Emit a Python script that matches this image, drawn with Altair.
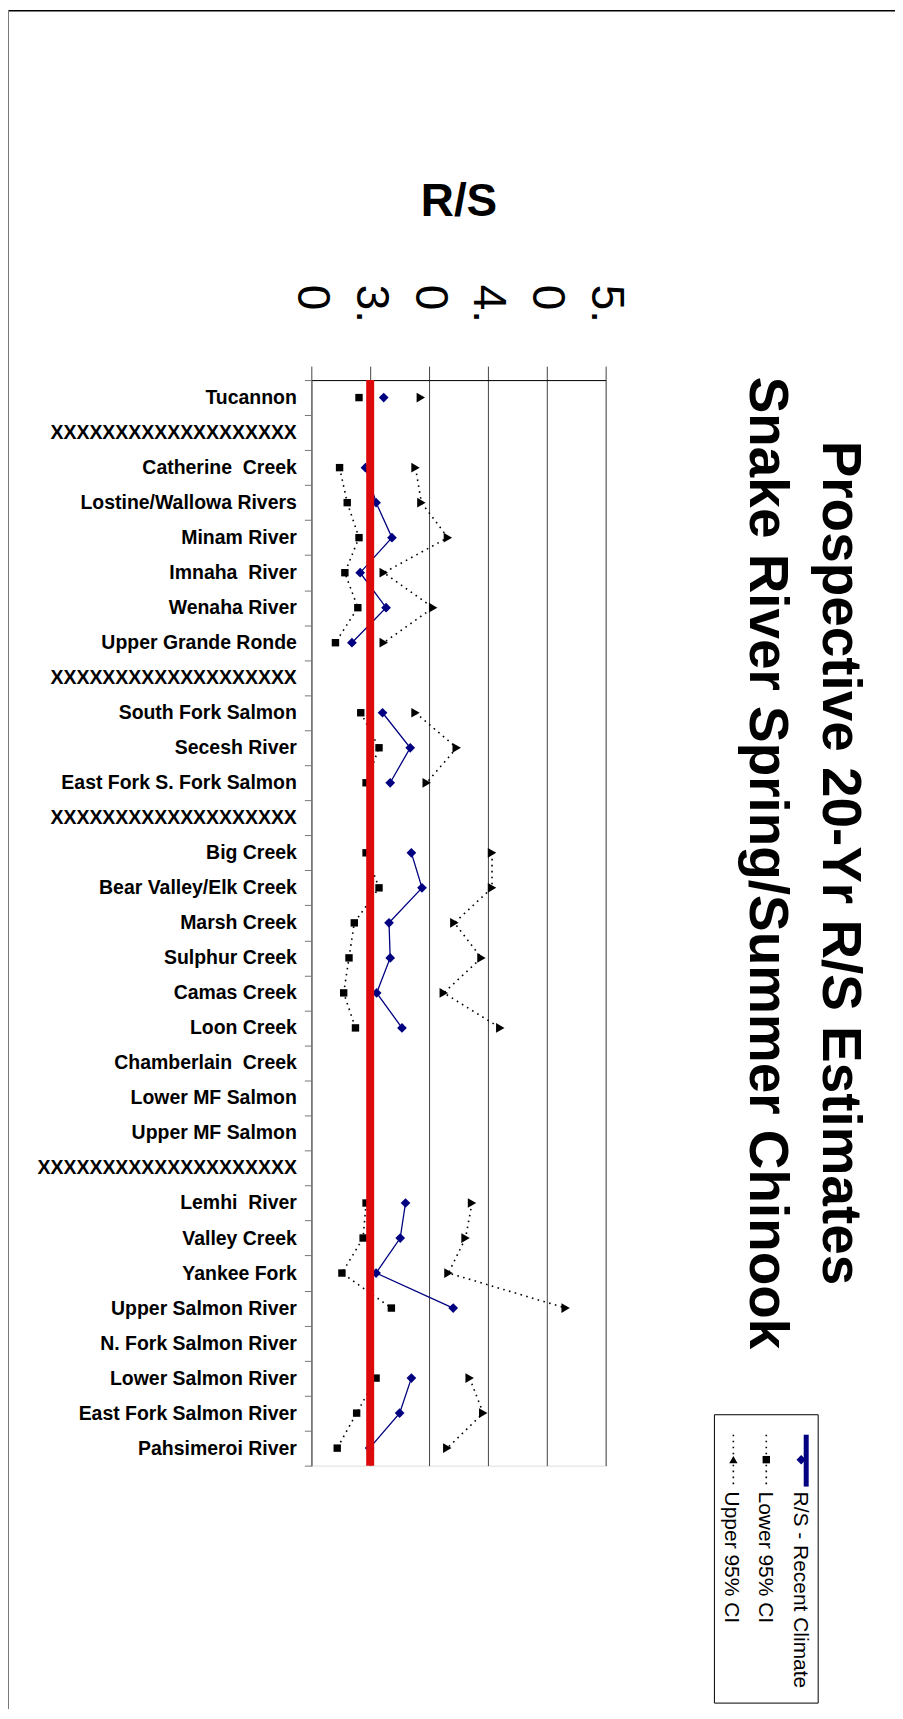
import json
import altair as alt
import pandas as pd

NB = "\u00a0"
SITES = [
    "Tucannon", "X" * 19, "Catherine" + NB * 2 + "Creek", "Lostine/Wallowa Rivers",
    "Minam River", "Imnaha" + NB * 2 + "River", "Wenaha River", "Upper Grande Ronde",
    "X" * 19, "South Fork Salmon", "Secesh River" + NB, "East Fork S. Fork Salmon",
    "X" * 19, "Big Creek", "Bear Valley/Elk Creek", "Marsh Creek", "Sulphur Creek",
    "Camas Creek", "Loon Creek", "Chamberlain" + NB * 2 + "Creek", "Lower MF Salmon",
    "Upper MF Salmon", "X" * 20, "Lemhi" + NB * 2 + "River", "Valley Creek", "Yankee Fork",
    "Upper Salmon River", "N. Fork Salmon River", "Lower Salmon River",
    "East Fork Salmon River", "Pahsimeroi River",
]
RS = [1.23, None, 0.92, 1.10, 1.37, 0.83, 1.27, 0.69, None, 1.21, 1.68, 1.34, None,
      1.70, 1.88, 1.32, 1.34, 1.11, 1.54, None, None, None, None,
      1.60, 1.51, 1.10, 2.41, None, 1.70, 1.50, 0.99]
LOWER = [0.81, None, 0.48, 0.61, 0.81, 0.57, 0.79, 0.41, None, 0.84, 1.15, 0.93, None,
         0.93, 1.15, 0.73, 0.64, 0.55, 0.75, None, None, None, None,
         0.93, 0.88, 0.52, 1.36, None, 1.10, 0.77, 0.44]
UPPER = [1.86, None, 1.77, 1.87, 2.32, 1.23, 2.07, 1.23, None, 1.77, 2.47, 1.96, None,
         3.07, 3.07, 2.43, 2.89, 2.25, 3.21, None, None, None, None,
         2.73, 2.62, 2.33, 4.32, None, 2.69, 2.92, 2.31]
SERIES = ["R/S - Recent Climate", "Lower 95% CI", "Upper 95% CI"]
X_TICKS = [0, 1, 2, 3, 4, 5]
X_TICK_LABELS = ["0", "3.", "0", "4.", "0", "5."]
TITLE = ["Prospective 20-Yr R/S Estimates", "Snake River Spring/Summer Chinook"]
AXIS_TITLE = "R/S"
REPLACEMENT = [1.0]

FONT = "Liberation Sans"
NAVY = "#000080"


def to_rows(values, name):
    rows, seg = [], 0
    for i, v in enumerate(values):
        if v is None:
            seg += 1
            continue
        rows.append({"row": i, "value": v, "series": name, "seg": seg})
    return rows


df = pd.DataFrame(to_rows(RS, SERIES[0]) + to_rows(LOWER, SERIES[1]) + to_rows(UPPER, SERIES[2]))

x_enc = alt.X(
    "value:Q",
    scale=alt.Scale(domain=[0, 5], nice=False, zero=False),
    axis=alt.Axis(
        orient="top", values=X_TICKS,
        labelExpr=json.dumps(X_TICK_LABELS) + "[datum.value]",
        labelAngle=90, labelAlign="left", labelBaseline="middle",
        labelFont=FONT, labelFontSize=46, labelColor="black",
        labelPadding=82, labelFlush=False, labelOverlap=False,
        tickSize=14, tickColor="#444", tickWidth=1,
        grid=True, gridColor="#444", gridWidth=1, gridOpacity=1,
        domainColor="black", domainWidth=1,
        title=AXIS_TITLE, titleFont=FONT, titleFontSize=46, titleFontWeight="bold",
        titleColor="black", titleBaseline="alphabetic", titleY=-165,
    ),
)
y_enc = alt.Y(
    "row:O",
    sort="ascending",
    scale=alt.Scale(type="band", domain=list(range(len(SITES))), paddingInner=0, paddingOuter=0),
    axis=alt.Axis(
        labelExpr=json.dumps(SITES) + "[datum.value]",
        tickBand="extent", tickSize=7, tickColor="#777", domainColor="#777",
        domainWidth=1.5, labelPadding=8, labelFont=FONT, labelFontSize=19.5,
        labelFontWeight="bold", labelColor="black", labelLimit=0, title=None, grid=False,
    ),
)

base = alt.Chart(df)


def series(name):
    return base.transform_filter(alt.datum.series == name)


dot = [1.6, 4.4]
lower_line = series(SERIES[1]).mark_line(color="black", strokeWidth=1.6, strokeDash=dot).encode(
    x=x_enc, y=y_enc, detail="seg:N", order="row:Q")
upper_line = series(SERIES[2]).mark_line(color="black", strokeWidth=1.6, strokeDash=dot).encode(
    x=x_enc, y=y_enc, detail="seg:N", order="row:Q")
rs_line = series(SERIES[0]).mark_line(color=NAVY, strokeWidth=1.3).encode(
    x=x_enc, y=y_enc, detail="seg:N", order="row:Q")

lower_pts = series(SERIES[1]).mark_point(shape="square", filled=True, size=55, color="black", opacity=1).encode(
    x=x_enc, y=y_enc)
upper_pts = series(SERIES[2]).mark_point(shape="triangle-right", filled=True, size=95, color="black", opacity=1).encode(
    x=x_enc, y=y_enc)
rs_pts = series(SERIES[0]).mark_point(shape="diamond", filled=True, size=95, color=NAVY, opacity=1).encode(
    x=x_enc, y=y_enc)

red = alt.Chart(pd.DataFrame({"value": REPLACEMENT})).mark_rule(color="#dc0a0a", strokeWidth=8).encode(x=x_enc)

one = pd.DataFrame({"k": [0]})

# page frame (decorative)
frame_top = alt.Chart(one).mark_rule(color="black", strokeWidth=1.5).encode(
    x=alt.value(-304), x2=alt.value(586), y=alt.value(-370.2))
frame_left = alt.Chart(one).mark_rule(color="#777", strokeWidth=1).encode(
    x=alt.value(-303.5), y=alt.value(-371), y2=alt.value(1332))

# chart title, rotated like the rest of the page
title = alt.Chart(one).mark_text(
    angle=90, align="center", baseline="bottom", font=FONT, fontSize=55,
    fontWeight="bold", lineHeight=73, color="black",
).encode(x=alt.value(501), y=alt.value(484), text=alt.value(TITLE))

# legend (rotated, drawn by hand)
legend_box = alt.Chart(one).mark_rect(fillOpacity=0, stroke="black", strokeWidth=1).encode(
    x=alt.value(404), x2=alt.value(508), y=alt.value(1037), y2=alt.value(1326))
leg_layers = [legend_box]
leg_text_x = [490, 455, 421]
leg_line_x = [496, 456, 423]
for i, name in enumerate(SERIES):
    lx = leg_line_x[i]
    if i == 0:
        leg_layers.append(alt.Chart(one).mark_point(shape="diamond", filled=True, size=90, color=NAVY, opacity=1).encode(
            x=alt.value(lx - 5), y=alt.value(1082)))
        leg_layers.append(alt.Chart(one).mark_rule(color=NAVY, strokeWidth=5).encode(
            x=alt.value(lx), y=alt.value(1057), y2=alt.value(1109)))
    else:
        leg_layers.append(alt.Chart(one).mark_rule(color="black", strokeWidth=1.6, strokeDash=dot).encode(
            x=alt.value(lx), y=alt.value(1057), y2=alt.value(1109)))
        shape = "square" if i == 1 else "triangle-up"
        leg_layers.append(alt.Chart(one).mark_point(shape=shape, filled=True, size=55 if i == 1 else 70,
                                                    color="black", opacity=1).encode(
            x=alt.value(lx), y=alt.value(1082)))
    leg_layers.append(alt.Chart(one).mark_text(angle=90, align="left", baseline="middle", font=FONT,
                                               fontSize=21, color="black").encode(
        x=alt.value(leg_text_x[i]), y=alt.value(1114), text=alt.value(name)))

chart = alt.layer(
    lower_line, upper_line, rs_line, lower_pts, upper_pts, rs_pts, red,
    frame_top, frame_left, title, *leg_layers,
).properties(
    width=295, height=1088,
    autosize=alt.AutoSizeParams(type="none"),
    padding={"left": 304, "top": 371, "right": 290, "bottom": 244},
).configure_view(strokeWidth=0).configure(background="white")

chart.save("out.html", embed_options={"renderer": "svg", "actions": False})
